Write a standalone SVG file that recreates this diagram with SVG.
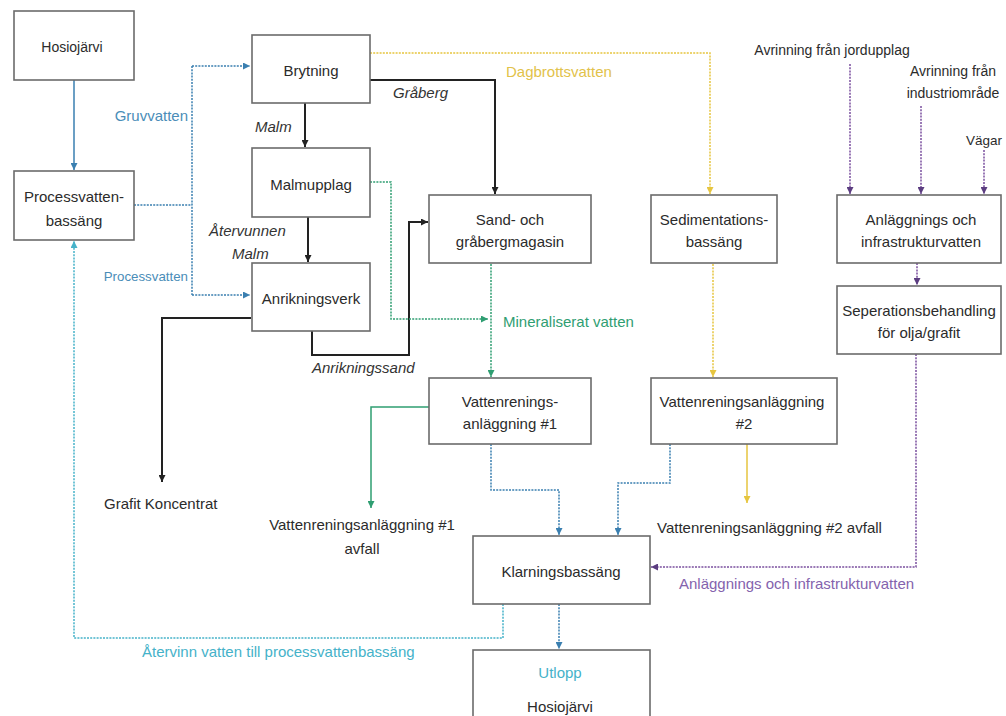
<svg xmlns="http://www.w3.org/2000/svg" width="1006" height="716" viewBox="0 0 1006 716">
<style>
.box{fill:#fff;stroke:#6b6b6b;stroke-width:1.6}
.t{font-family:"Liberation Sans",Arial,sans-serif;font-size:15px;fill:#2b2b2b;text-anchor:middle}
.l{font-family:"Liberation Sans",Arial,sans-serif;font-size:15px;fill:#2b2b2b}
.it{font-style:italic;fill:#333}
.c{fill:none;stroke-width:1.5}
.dot{stroke-dasharray:2 1.2}
.blk{stroke:#222;stroke-width:2}
.sb{stroke:#3a7fb0}
.cy{stroke:#45b2c9}
.gr{stroke:#2f9e72}
.ye{stroke:#e6c53f}
.pu{stroke:#7a4f9e}
</style>
<defs>
<marker id="mk" viewBox="0 0 6 6" refX="6" refY="3" markerWidth="7" markerHeight="7" markerUnits="userSpaceOnUse" orient="auto"><path d="M0,0L6,3L0,6z" fill="#222"/></marker>
<marker id="msb" viewBox="0 0 6 6" refX="6" refY="3" markerWidth="7" markerHeight="7" markerUnits="userSpaceOnUse" orient="auto"><path d="M0,0L6,3L0,6z" fill="#3a7fb0"/></marker>
<marker id="mcy" viewBox="0 0 6 6" refX="6" refY="3" markerWidth="7" markerHeight="7" markerUnits="userSpaceOnUse" orient="auto"><path d="M0,0L6,3L0,6z" fill="#45b2c9"/></marker>
<marker id="mgr" viewBox="0 0 6 6" refX="6" refY="3" markerWidth="7" markerHeight="7" markerUnits="userSpaceOnUse" orient="auto"><path d="M0,0L6,3L0,6z" fill="#2f9e72"/></marker>
<marker id="mye" viewBox="0 0 6 6" refX="6" refY="3" markerWidth="7" markerHeight="7" markerUnits="userSpaceOnUse" orient="auto"><path d="M0,0L6,3L0,6z" fill="#e6c53f"/></marker>
<marker id="mpu" viewBox="0 0 6 6" refX="6" refY="3" markerWidth="7" markerHeight="7" markerUnits="userSpaceOnUse" orient="auto"><path d="M0,0L6,3L0,6z" fill="#5b3d80"/></marker>
</defs>
<rect width="1006" height="716" fill="#fff"/>

<g id="connectors">
  <path class="c sb" d="M74,80V170" marker-end="url(#msb)"/>
  <path class="c sb dot" d="M134,205H192M192,66V295M192,66H250" marker-end="url(#msb)"/>
  <path class="c sb dot" d="M192,295H250" marker-end="url(#msb)"/>
  <path class="c blk" d="M305,103V147" marker-end="url(#mk)"/>
  <path class="c blk" d="M308,217V262" marker-end="url(#mk)"/>
  <path class="c blk" d="M370,80H495V194" marker-end="url(#mk)"/>
  <path class="c blk" d="M312,331V355H409V222H428" marker-end="url(#mk)"/>
  <path class="c blk" d="M251,318H162V482" marker-end="url(#mk)"/>
  <path class="c ye dot" d="M370,53H710V194" marker-end="url(#mye)"/>
  <path class="c gr dot" d="M370,182H391V319H488" marker-end="url(#mgr)"/>
  <path class="c gr dot" d="M491,264V377" marker-end="url(#mgr)"/>
  <path class="c ye dot" d="M713,264V377" marker-end="url(#mye)"/>
  <path class="c gr" d="M429,407H371V508" marker-end="url(#mgr)"/>
  <path class="c ye" d="M747,444V503" marker-end="url(#mye)"/>
  <path class="c sb dot" d="M491,444V490H559V535" marker-end="url(#msb)"/>
  <path class="c sb dot" d="M670,444V483H618V535" marker-end="url(#msb)"/>
  <path class="c sb dot" d="M559,604V649" marker-end="url(#msb)"/>
  <path class="c cy dot" d="M503,604V638H74V241" marker-end="url(#mcy)"/>
  <path class="c pu dot" d="M850,64V194" marker-end="url(#mpu)"/>
  <path class="c pu dot" d="M921,106V194" marker-end="url(#mpu)"/>
  <path class="c pu dot" d="M984,150V194" marker-end="url(#mpu)"/>
  <path class="c pu dot" d="M917,263V285" marker-end="url(#mpu)"/>
  <path class="c pu dot" d="M916,354V567H651" marker-end="url(#mpu)"/>
</g>

<g id="labels">
  <text class="l" x="188" y="121" text-anchor="end" style="fill:#4a8db8">Gruvvatten</text>
  <text class="l" x="188" y="281" text-anchor="end" style="fill:#4a8db8;font-size:13.3px">Processvatten</text>
  <text class="l it" x="255" y="132">Malm</text>
  <text class="l it" x="209" y="236">Återvunnen</text>
  <text class="l it" x="232" y="259">Malm</text>
  <text class="l it" x="393" y="98">Gråberg</text>
  <text class="l it" x="312" y="373">Anrikningssand</text>
  <text class="l" x="506" y="77" style="fill:#e2c24a">Dagbrottsvatten</text>
  <text class="l" x="503" y="327" style="fill:#2f9e72">Mineraliserat vatten</text>
  <text class="l" x="104" y="509">Grafit Koncentrat</text>
  <text class="t" x="362" y="530">Vattenreningsanläggning #1</text>
  <text class="t" x="362" y="554">avfall</text>
  <text class="l" x="657" y="533">Vattenreningsanläggning #2 avfall</text>
  <text class="l" x="679" y="589" style="fill:#8463ad">Anläggnings och infrastrukturvatten</text>
  <text class="l" x="142" y="657" style="fill:#45b2c9">Återvinn vatten till processvattenbassäng</text>
  <text class="t" x="832" y="55" style="font-size:14px">Avrinning från jordupplag</text>
  <text class="t" x="953" y="76" style="font-size:14px">Avrinning från</text>
  <text class="t" x="953" y="98" style="font-size:14px">industriområde</text>
  <text class="t" x="984" y="145" style="font-size:13.5px">Vägar</text>
</g>

<g id="n-hosiojarvi"><rect class="box" x="14" y="11" width="120" height="69"/><text class="t" x="72" y="52" style="font-size:14px">Hosiojärvi</text></g>
<g id="n-processvatten"><rect class="box" x="14" y="171" width="120" height="69"/><text class="t" x="74" y="202">Processvatten-</text><text class="t" x="74" y="226">bassäng</text></g>
<g id="n-brytning"><rect class="box" x="252" y="35" width="118" height="68"/><text class="t" x="311" y="76">Brytning</text></g>
<g id="n-malmupplag"><rect class="box" x="252" y="148" width="118" height="69"/><text class="t" x="311" y="190">Malmupplag</text></g>
<g id="n-anrikningsverk"><rect class="box" x="252" y="263" width="118" height="68"/><text class="t" x="311" y="304">Anrikningsverk</text></g>
<g id="n-sand"><rect class="box" x="429" y="195" width="162" height="68"/><text class="t" x="510" y="225">Sand- och</text><text class="t" x="510" y="247">gråbergmagasin</text></g>
<g id="n-sedimentation"><rect class="box" x="651" y="195" width="126" height="68"/><text class="t" x="714" y="225">Sedimentations-</text><text class="t" x="714" y="247">bassäng</text></g>
<g id="n-anlaggning"><rect class="box" x="837" y="195" width="164" height="68"/><text class="t" x="921" y="225">Anläggnings och</text><text class="t" x="921" y="247">infrastrukturvatten</text></g>
<g id="n-seperation"><rect class="box" x="837" y="286" width="164" height="68"/><text class="t" x="919" y="316">Seperationsbehandling</text><text class="t" x="919" y="338">för olja/grafit</text></g>
<g id="n-vatten1"><rect class="box" x="429" y="378" width="162" height="66"/><text class="t" x="510" y="407">Vattenrenings-</text><text class="t" x="510" y="429">anläggning #1</text></g>
<g id="n-vatten2"><rect class="box" x="651" y="378" width="186" height="66"/><text class="t" x="742" y="407">Vattenreningsanläggning</text><text class="t" x="744" y="429">#2</text></g>
<g id="n-klarning"><rect class="box" x="473" y="536" width="177" height="68"/><text class="t" x="561" y="577">Klarningsbassäng</text></g>
<g id="n-utlopp"><rect class="box" x="473" y="650" width="177" height="72"/><text class="t" x="560" y="678" style="fill:#45b2c9">Utlopp</text><text class="t" x="560" y="712">Hosiojärvi</text></g>
</svg>
